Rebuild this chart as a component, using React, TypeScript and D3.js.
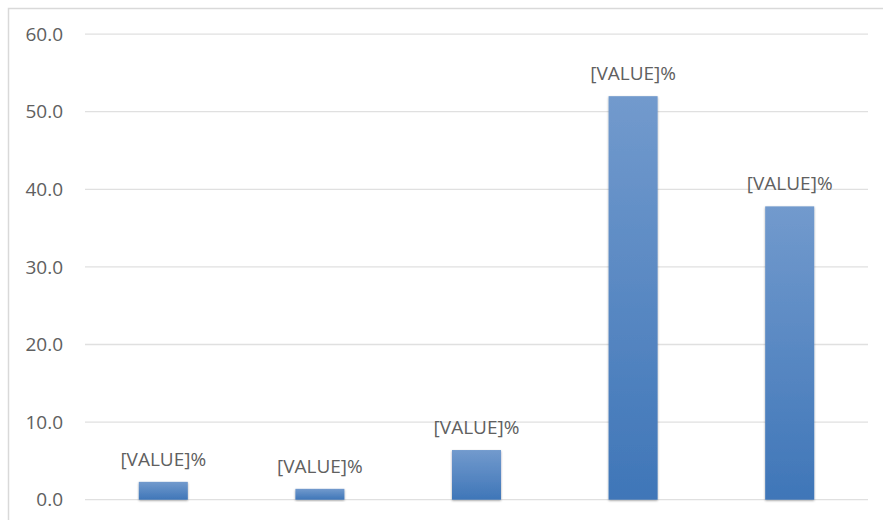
import React from "react";
import * as d3 from "d3";

const categories = ["A", "B", "C", "D", "E"];
const values = [2.3, 1.4, 6.4, 52.0, 37.8];
const labels = ["[VALUE]%", "[VALUE]%", "[VALUE]%", "[VALUE]%", "[VALUE]%"];
const yTicks = [0, 10, 20, 30, 40, 50, 60];

const W = 883;
const H = 520;

export default function App() {
  const y = d3.scaleLinear().domain([0, 60]).range([499.7, 34.1]);
  const x = d3
    .scaleBand<string>()
    .domain(categories)
    .range([85, 868])
    .paddingInner(0.687)
    .paddingOuter(0.3435);
  const font = "'Open Sans', Lato, sans-serif";
  return (
    <svg
      width={W}
      height={H}
      style={{ position: "absolute", left: 0, top: 0, background: "#fff" }}
    >
      <defs>
        <linearGradient id="barGrad" x1="0" y1="0" x2="0" y2="1">
          <stop offset="0%" stopColor="#729acd" />
          <stop offset="100%" stopColor="#3f76b8" />
        </linearGradient>
        <filter id="shadow" x="-20%" y="-20%" width="140%" height="140%">
          <feDropShadow dx="0" dy="1" stdDeviation="1.2" floodColor="#000" floodOpacity="0.35" />
        </filter>
      </defs>
      <rect x={8.5} y={8.5} width={1000} height={1000} fill="none" stroke="#d9d9d9" strokeWidth={1.5} />
      {yTicks.map((t) => (
        <g key={t}>
          <line x1={85} x2={868} y1={y(t)} y2={y(t)} stroke="#e0e0e0" strokeWidth={1.3} />
          <text
            x={63}
            y={y(t)}
            dy="0.35em"
            textAnchor="end"
            fontFamily={font}
            fontSize={19}
            fill="#606060"
          >
            {t.toFixed(1)}
          </text>
        </g>
      ))}
      {categories.map((c, i) => (
        <rect
          key={c}
          x={x(c)}
          y={y(values[i])}
          width={x.bandwidth()}
          height={y(0) - y(values[i])}
          fill="url(#barGrad)"
          filter="url(#shadow)"
        />
      ))}
      {categories.map((c, i) => (
        <text
          key={c + "l"}
          x={(x(c) as number) + x.bandwidth() / 2}
          y={y(values[i]) - 16}
          textAnchor="middle"
          fontFamily={font}
          fontSize={19}
          fill="#606060"
        >
          {labels[i]}
        </text>
      ))}
    </svg>
  );
}
